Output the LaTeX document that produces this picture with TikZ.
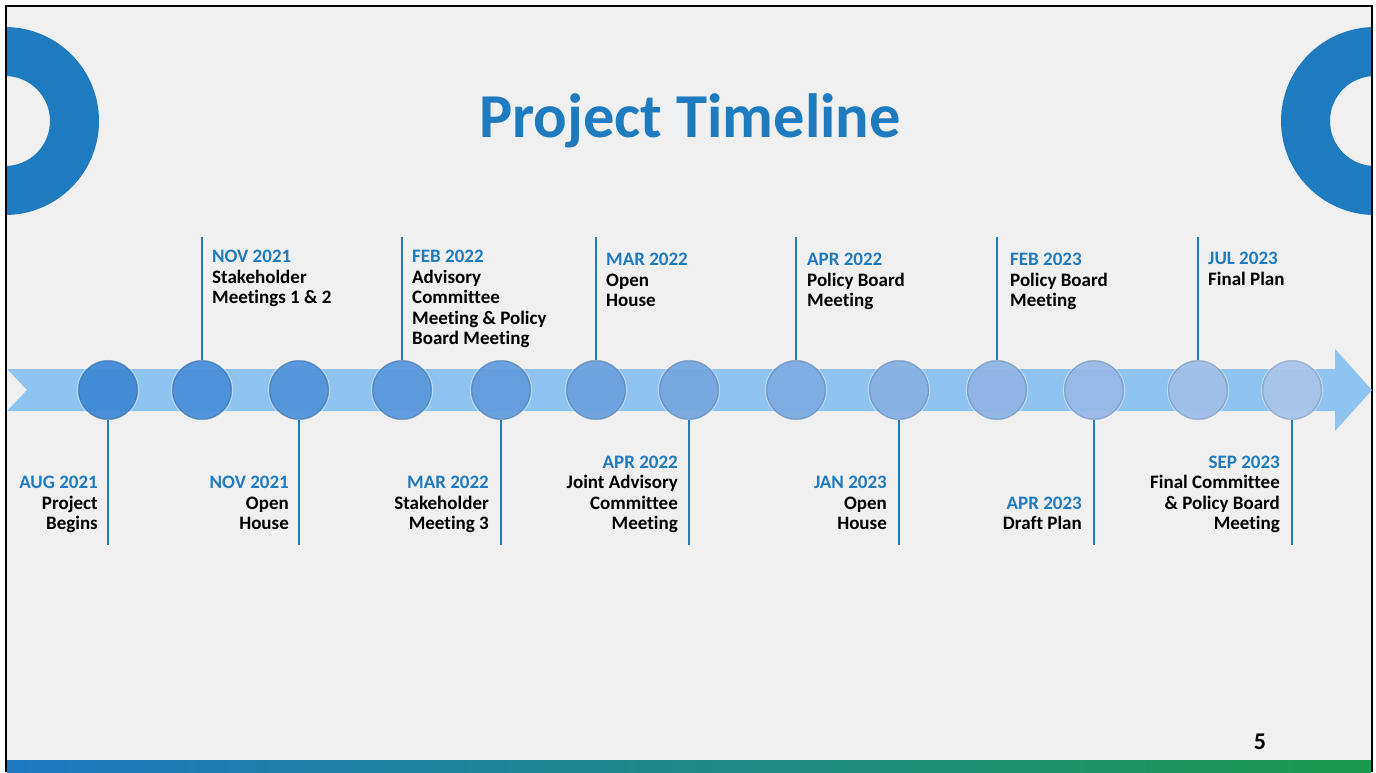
\documentclass[tikz,border=0pt]{standalone}
\usepackage{fontspec}
\setmainfont[Ligatures=NoCommon]{Carlito}
\usetikzlibrary{shapes.geometric}
\definecolor{tblue}{RGB}{30,123,192}
\definecolor{bgc}{RGB}{240,240,240}
\definecolor{band}{RGB}{143,196,240}
\definecolor{cdark}{RGB}{66,138,214}
\definecolor{clight}{RGB}{168,196,234}
\definecolor{gleft}{RGB}{30,120,192}
\definecolor{gright}{RGB}{28,154,80}
\tikzset{
  lbl/.style={inner sep=0pt, font=\bfseries\fontsize{19}{20.5}\selectfont},
  toplbl/.style={lbl, anchor=north west, align=left},
  botlbl/.style={lbl, anchor=south east, align=right},
  stem/.style={draw=tblue, line width=2.6pt},
  dot/.style={circle, minimum size=59pt, inner sep=0pt, fill=#1, fill opacity=0.95,
     draw=#1!75!black, draw opacity=0.5, line width=1.6pt},
}
\newcommand{\dt}[1]{\textcolor{tblue}{#1}}
\begin{document}
\begin{tikzpicture}[x=1pt,y=-1pt]
\useasboundingbox (0,0) rectangle (1376,772);
\fill[white] (0,0) rectangle (1376,772);
\fill[bgc] (6,6) rectangle (1372,772);
% donuts
\begin{scope}
\clip (6,6) rectangle (1372,772);
\fill[tblue, even odd rule] (5,121) circle[radius=94pt] (5,121) circle[radius=45pt];
\fill[tblue, even odd rule] (1375,121) circle[radius=94pt] (1375,121) circle[radius=45pt];
\end{scope}
% bottom gradient bar
\shade[left color=gleft, right color=gright] (7,760) rectangle (1371,772);
% frame
\draw[black, line width=2.4pt] (6,772) -- (6,6) -- (1372,6) -- (1372,772);
% title
\node[anchor=base, inner sep=0pt, text=tblue, font=\bfseries\fontsize{62.5}{70}\selectfont] (title) at (690,137) {Project Timeline};
% page number
\node[anchor=base, inner sep=0pt, font=\bfseries\fontsize{24}{28}\selectfont] (pnum) at (1260,749) {5};
% arrow band
\fill[band] (7,369) -- (1335,369) -- (1335,349) -- (1372,390) -- (1335,431) -- (1335,411) -- (7,411) -- (27,390) -- cycle;
% coordinates for stem ends
\coordinate (s2) at (202,237);
\coordinate (s4) at (402,237);
\coordinate (s6) at (596,237);
\coordinate (s8) at (796,237);
\coordinate (s10) at (997,237);
\coordinate (s12) at (1198,237);
\coordinate (s1) at (108,545);
\coordinate (s3) at (299,545);
\coordinate (s5) at (501,545);
\coordinate (s7) at (689,545);
\coordinate (s9) at (899,545);
\coordinate (s11) at (1094,545);
\coordinate (s13) at (1292,545);
% dots
\foreach \i/\x in {1/108,2/202,3/299,4/402,5/501,6/596,7/689,8/796,9/899,10/997,11/1094,12/1198,13/1292}{
  \pgfmathtruncatemacro{\p}{(\i-1)*100/12}
  \colorlet{dc}{clight!\p!cdark}
  \node[dot=dc] (c\i) at (\x,390) {};
  \draw[white, opacity=0.45, line width=0.9pt] (c\i.center) circle[radius=30.6pt];
}
% stems
\foreach \i in {2,4,...,12}{\draw[stem] (s\i) -- (c\i.north);}
\foreach \i in {1,3,...,13}{\draw[stem] (c\i.south) -- (s\i);}
% top labels
\node[toplbl] (t2) at (212,250) {\dt{NOV 2021}\\Stakeholder\\Meetings 1 \& 2};
\node[toplbl] (t4) at (412,250) {\dt{FEB 2022}\\Advisory\\Committee\\Meeting \& Policy\\Board Meeting};
\node[toplbl] (t6) at (606,253) {\dt{MAR 2022}\\Open\\House};
\node[toplbl] (t8) at (807,253) {\dt{APR 2022}\\Policy Board\\Meeting};
\node[toplbl] (t10) at (1010,253) {\dt{FEB 2023}\\Policy Board\\Meeting};
\node[toplbl] (t12) at (1208,252) {\dt{JUL 2023}\\Final Plan};
% bottom labels
\node[botlbl] (b1) at (98,533) {\dt{AUG 2021}\\Project\\Begins\vphantom{g}};
\node[botlbl] (b3) at (289,533) {\dt{NOV 2021}\\Open\\House\vphantom{g}};
\node[botlbl] (b5) at (489,533) {\dt{MAR 2022}\\Stakeholder\\Meeting 3\vphantom{g}};
\node[botlbl] (b7) at (678,533) {\dt{APR 2022}\\Joint Advisory\\Committee\\Meeting\vphantom{g}};
\node[botlbl] (b9) at (887,533) {\dt{JAN 2023}\\Open\\House\vphantom{g}};
\node[botlbl] (b11) at (1082,533) {\dt{APR 2023}\\Draft Plan\vphantom{g}};
\node[botlbl] (b13) at (1280,533) {\dt{SEP 2023}\\Final Committee\\\& Policy Board\\Meeting\vphantom{g}};
\end{tikzpicture}
\end{document}
